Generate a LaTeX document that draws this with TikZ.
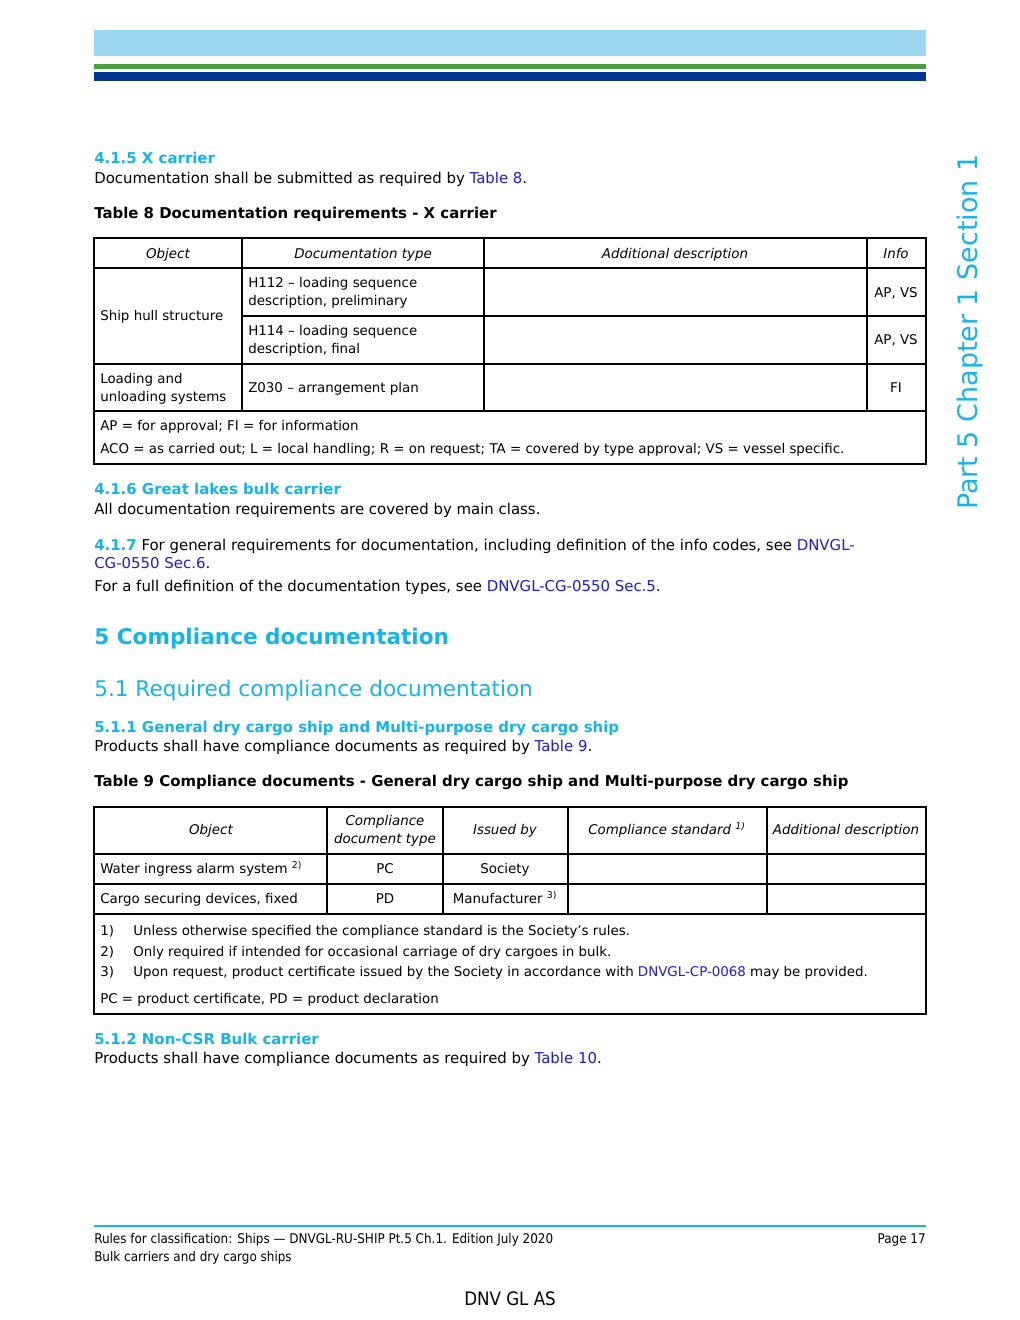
\documentclass[tikz,border=0pt]{standalone}
\usepackage{fontspec}
\setmainfont{DejaVu Sans}
\newfontfamily\condfont{DejaVu Sans Condensed}
\definecolor{dnvcyan}{HTML}{14B4EB}
\definecolor{linkblue}{HTML}{1A1AE6}
\definecolor{barlight}{HTML}{9BD7EF}
\definecolor{bargreen}{HTML}{4A9E3E}
\definecolor{barnavy}{HTML}{003591}
\newcommand\bfnt{\fontsize{11.2}{13}\selectfont}
\newcommand\tfnt{\fontsize{10.05}{12}\selectfont}
\newcommand\lnk[1]{\textcolor{linkblue}{#1}}
\tikzset{
  txt/.style={anchor=base west, inner sep=0pt, font=\bfnt},
  cell/.style={anchor=base west, inner sep=0pt, font=\tfnt},
  ctr/.style={anchor=base, inner sep=0pt, font=\tfnt},
  hdr/.style={anchor=base, inner sep=0pt, font=\tfnt\itshape},
  hd/.style={anchor=base west, inner sep=0pt, font=\bfnt\bfseries, text=dnvcyan},
  ttl/.style={anchor=base west, inner sep=0pt, font=\bfnt\bfseries},
  grid/.style={line width=1.3pt},
  foot/.style={inner sep=0pt, font=\condfont\fontsize{10}{12}\selectfont}
}
\begin{document}
\begin{tikzpicture}[x=0.75pt,y=-0.75pt]
\useasboundingbox[fill=white] (0,0) rectangle (1020,1320);
% header bars
\fill[barlight] (94,30) rectangle (926,56);
\fill[bargreen] (94,64) rectangle (926,69);
\fill[barnavy] (94,72) rectangle (926,81);
% side text
\node[anchor=base west, inner sep=0pt, rotate=90, text=dnvcyan, font=\fontsize{20.2}{23}\selectfont] (side) at (977,510) {Part 5 Chapter 1 Section 1};

% 4.1.5
\node[hd] (h415) at (94,163) {4.1.5 X carrier};
\node[txt] (p415) at (94,183) {Documentation shall be submitted as required by \lnk{Table 8}.};
\node[ttl] (t8) at (94,218) {Table 8 Documentation requirements - X carrier};

% Table 8
\draw[grid] (94,238) rectangle (926,464);
\draw[grid] (94,268) -- (926,268);
\draw[grid] (242,316) -- (926,316);
\draw[grid] (94,364) -- (926,364);
\draw[grid] (94,411) -- (926,411);
\draw[grid] (242,238) -- (242,411);
\draw[grid] (484,238) -- (484,411);
\draw[grid] (867,238) -- (867,411);
\node[hdr] (a1) at (168,258) {Object};
\node[hdr] (a2) at (363,258) {Documentation type};
\node[hdr] (a3) at (675,258) {Additional description};
\node[hdr] (a4) at (896,258) {Info};
\node[cell] (b1) at (100,320) {Ship hull structure};
\node[cell] (b2) at (248,287) {H112 – loading sequence};
\node[cell] (b3) at (248,305) {description, preliminary};
\node[ctr] (b4) at (896,297) {AP, VS};
\node[cell] (c2) at (248,335) {H114 – loading sequence};
\node[cell] (c3) at (248,353) {description, final};
\node[ctr] (c4) at (896,344) {AP, VS};
\node[cell] (d1) at (100,383) {Loading and};
\node[cell] (d2) at (100,401) {unloading systems};
\node[cell] (d3) at (248,392) {Z030 – arrangement plan};
\node[ctr] (d4) at (896,392) {FI};
\node[cell] (n1) at (100,430) {AP = for approval; FI = for information};
\node[cell] (n2) at (100,453) {ACO = as carried out; L = local handling; R = on request; TA = covered by type approval; VS = vessel specific.};

% 4.1.6 / 4.1.7
\node[hd] (h416) at (94,494) {4.1.6 Great lakes bulk carrier};
\node[txt] (p416) at (94,514) {All documentation requirements are covered by main class.};
\node[txt] (p417a) at (94,550) {\textcolor{dnvcyan}{\bfseries 4.1.7} For general requirements for documentation, including definition of the info codes, see \lnk{DNVGL-}};
\node[txt] (p417b) at (94,568) {\lnk{CG-0550 Sec.6}.};
\node[txt] (p417c) at (94,591) {For a full definition of the documentation types, see \lnk{DNVGL-CG-0550 Sec.5}.};

% 5
\node[anchor=base west, inner sep=0pt, text=dnvcyan, font=\fontsize{16.2}{19}\selectfont\bfseries] (h5) at (94,644) {5 Compliance documentation};
\node[anchor=base west, inner sep=0pt, text=dnvcyan, font=\fontsize{16.2}{19}\selectfont] (h51) at (94,696) {5.1 Required compliance documentation};
\node[hd] (h511) at (94,732) {5.1.1 General dry cargo ship and Multi-purpose dry cargo ship};
\node[txt] (p511) at (94,751) {Products shall have compliance documents as required by \lnk{Table 9}.};
\node[ttl] (t9) at (94,786) {Table 9 Compliance documents - General dry cargo ship and Multi-purpose dry cargo ship};

% Table 9
\draw[grid] (94,807) rectangle (926,1014);
\draw[grid] (94,854) -- (926,854);
\draw[grid] (94,884) -- (926,884);
\draw[grid] (94,914) -- (926,914);
\draw[grid] (327,807) -- (327,914);
\draw[grid] (443,807) -- (443,914);
\draw[grid] (568,807) -- (568,914);
\draw[grid] (767,807) -- (767,914);
\node[hdr] (e1) at (211,834) {Object};
\node[hdr] (e2) at (385,825) {Compliance};
\node[hdr] (e3) at (385,843) {document type};
\node[hdr] (e4) at (505,834) {Issued by};
\node[hdr] (e5) at (667,834) {Compliance standard \textsuperscript{1)}};
\node[hdr] (e6) at (846,834) {Additional description};
\node[cell] (f1) at (100,873) {Water ingress alarm system \textsuperscript{2)}};
\node[ctr] (f2) at (385,873) {PC};
\node[ctr] (f3) at (505,873) {Society};
\node[cell] (g1) at (100,903) {Cargo securing devices, fixed};
\node[ctr] (g2) at (385,903) {PD};
\node[ctr] (g3) at (505,903) {Manufacturer \textsuperscript{3)}};
\node[cell] (m1) at (100,935) {1)};
\node[cell] (m1t) at (133,935) {Unless otherwise specified the compliance standard is the Society's rules.};
\node[cell] (m2) at (100,956) {2)};
\node[cell] (m2t) at (133,956) {Only required if intended for occasional carriage of dry cargoes in bulk.};
\node[cell] (m3) at (100,976) {3)};
\node[cell] (m3t) at (133,976) {Upon request, product certificate issued by the Society in accordance with \lnk{DNVGL-CP-0068} may be provided.};
\node[cell] (m4) at (100,1003) {PC = product certificate, PD = product declaration};

% 5.1.2
\node[hd] (h512) at (94,1044) {5.1.2 Non-CSR Bulk carrier};
\node[txt] (p512) at (94,1063) {Products shall have compliance documents as required by \lnk{Table 10}.};

% footer
\draw[dnvcyan, line width=1.5pt] (94,1226) -- (926,1226);
\node[foot, anchor=base west] (f1a) at (94,1243) {Rules for classification: Ships — DNVGL-RU-SHIP Pt.5 Ch.1. Edition July 2020};
\node[foot, anchor=base east] (f1b) at (926,1243) {Page 17};
\node[foot, anchor=base west] (f2a) at (94,1261) {Bulk carriers and dry cargo ships};
\node[anchor=base, inner sep=0pt, font=\condfont\fontsize{13.9}{16}\selectfont] (dnv) at (510,1305) {DNV GL AS};
\end{tikzpicture}
\end{document}
